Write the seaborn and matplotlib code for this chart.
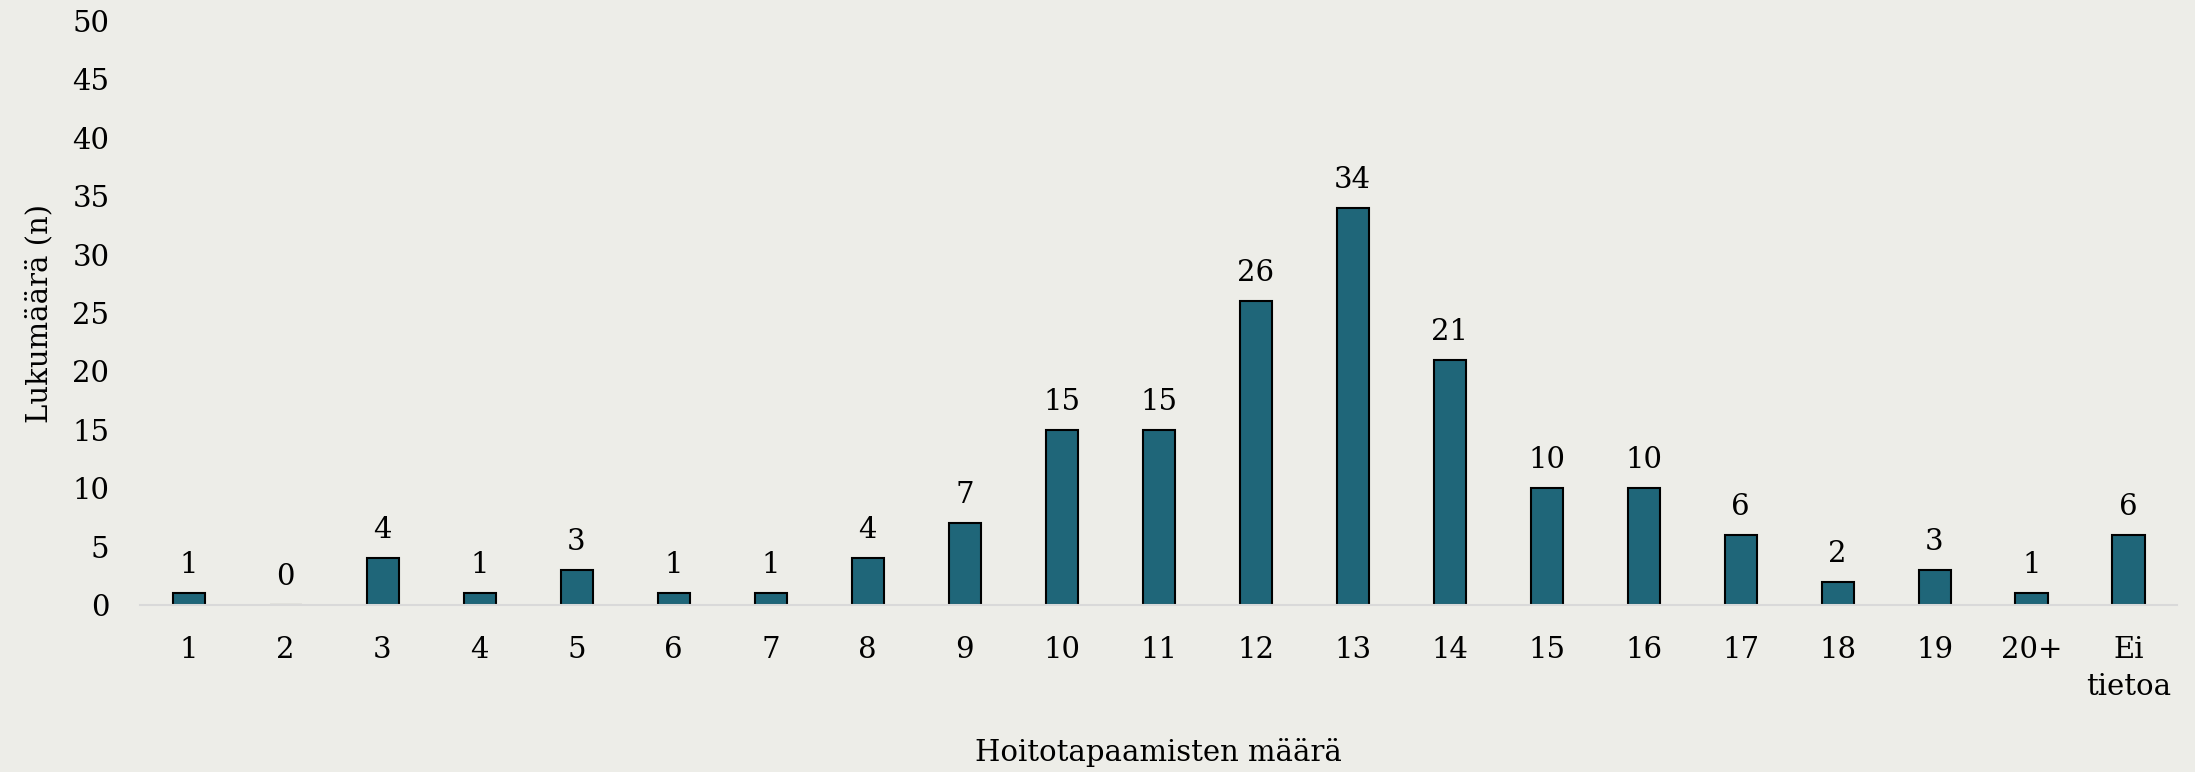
import pandas as pd
import matplotlib.pyplot as plt
import seaborn as sns

categories = ['1', '2', '3', '4', '5', '6', '7', '8', '9', '10', '11', '12', '13',
              '14', '15', '16', '17', '18', '19', '20+', 'Ei\ntietoa']
counts = [1, 0, 4, 1, 3, 1, 1, 4, 7, 15, 15, 26, 34, 21, 10, 10, 6, 2, 3, 1, 6]
y_ticks = [0, 5, 10, 15, 20, 25, 30, 35, 40, 45, 50]

bg = '#EDEDE8'
bar_color = '#1F6679'

sns.set_theme(style='white')
plt.rcParams['font.family'] = ['DejaVu Serif']
plt.rcParams['text.color'] = 'black'
plt.rcParams['xtick.color'] = 'black'
plt.rcParams['ytick.color'] = 'black'
plt.rcParams['axes.labelcolor'] = 'black'

df = pd.DataFrame({'kategoria': categories, 'lukumaara': counts})

fig = plt.figure(figsize=(21.95, 7.72), dpi=100, facecolor=bg)
ax = fig.add_axes([0.0638, 0.2163, 0.928, 0.7565])
ax.set_facecolor(bg)

sns.barplot(data=df, x='kategoria', y='lukumaara', color=bar_color, width=0.33,
            edgecolor='black', linewidth=1.5, saturation=1, ax=ax)

for i, v in enumerate(counts):
    ax.text(i, v + 1.2, str(v), ha='center', va='bottom', fontsize=21, color='black')

ax.set_ylim(0, 50)
ax.set_xlim(-0.5, len(categories) - 0.5)
ax.set_yticks(y_ticks)
ax.tick_params(axis='y', labelsize=21, length=0, pad=22)
ax.tick_params(axis='x', labelsize=21, length=0, pad=22)
for lbl in ax.get_xticklabels():
    lbl.set_verticalalignment('top')
    lbl.set_linespacing(1.45)

for s in ['top', 'right', 'left']:
    ax.spines[s].set_visible(False)
ax.spines['bottom'].set_color('#D9D9D9')
ax.spines['bottom'].set_linewidth(1.5)

ax.set_xlabel('Hoitotapaamisten määrä', fontsize=21, labelpad=26)
ax.set_ylabel('Lukumäärä (n)', fontsize=21, labelpad=14)

fig.savefig('out.png', dpi=100, facecolor=bg)
